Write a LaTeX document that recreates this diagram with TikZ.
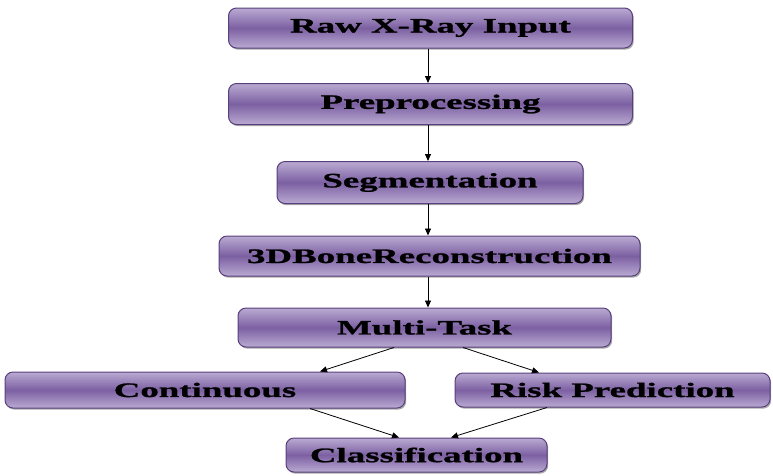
\documentclass[tikz,border=0pt]{standalone}
\usepackage{fontspec}
\usepackage{tikz}
\usetikzlibrary{
  arrows.meta,
  shadows,
  positioning
}
\newfontfamily\stagefont{Liberation Serif}[FakeStretch=1.8,FakeBold=1.2]
\definecolor{stagelight}{RGB}{186,170,210}
\definecolor{stagemid}{RGB}{124,96,162}
\definecolor{stageline}{RGB}{88,64,124}
\tikzset{
  stage/.style={draw=stageline,line width=1pt,rounded corners=8pt,
    top color=stagelight,bottom color=stagelight,middle color=stagemid,
    drop shadow={shadow xshift=1.2pt,shadow yshift=-1.6pt,
      fill=black!75,opacity=0.45},
    align=center,inner sep=0pt,minimum height=40pt,
    font=\stagefont\bfseries\fontsize{20.5pt}{23pt}\selectfont},
  lowstage/.style={stage,minimum height=35pt},
  flow/.style={-{Triangle[length=7pt,width=6pt]},line width=0.8pt,draw=black}
}
\begin{document}
\begin{tikzpicture}[x=1pt,y=-1pt]
  \useasboundingbox (0,0) rectangle (773,475);
  \node[stage,minimum width=404pt] (raw) at (430.5,28) {Raw X-Ray Input};
  \node[stage,minimum width=404pt,minimum height=41pt] (prep) at (430.5,104) {Preprocessing};
  \node[stage,minimum width=306pt,minimum height=42pt] (seg) at (430,182.5) {Segmentation};
  \node[stage,minimum width=421pt] (recon) at (429.5,256) {3DBoneReconstruction};
  \node[stage,minimum width=373pt,minimum height=39pt] (multi) at (424.5,327.5) {Multi-Task};
  \node[lowstage,minimum width=400pt,minimum height=36pt] (cont) at (205,390) {Continuous};
  \node[lowstage,minimum width=315pt,minimum height=34pt] (risk) at (612.5,390) {Risk Prediction};
  \node[lowstage,minimum width=261pt,minimum height=34pt] (class) at (416.5,455) {Classification};
  % main column
  \draw[flow] ([xshift=-2.5pt]raw.south) -- ([xshift=-2.5pt]raw.south |- prep.north);
  \draw[flow] ([xshift=-2.5pt]prep.south) -- ([xshift=-2.5pt]prep.south |- seg.north);
  \draw[flow] ([xshift=-2pt]seg.south) -- ([xshift=-2pt]seg.south |- recon.north);
  \draw[flow] ([xshift=-1.5pt]recon.south) -- ([xshift=-1.5pt]recon.south |- multi.north);
  % branches
  \draw[flow] ([xshift=-30.5pt]multi.south) -- ([xshift=115pt]cont.north);
  \draw[flow] ([xshift=38.5pt]multi.south) -- ([xshift=-73.5pt]risk.north);
  \draw[flow] ([xshift=105pt]cont.south) -- ([xshift=-17.5pt]class.north);
  \draw[flow] ([xshift=-65.5pt]risk.south) -- ([xshift=34.5pt]class.north);
\end{tikzpicture}
\end{document}
